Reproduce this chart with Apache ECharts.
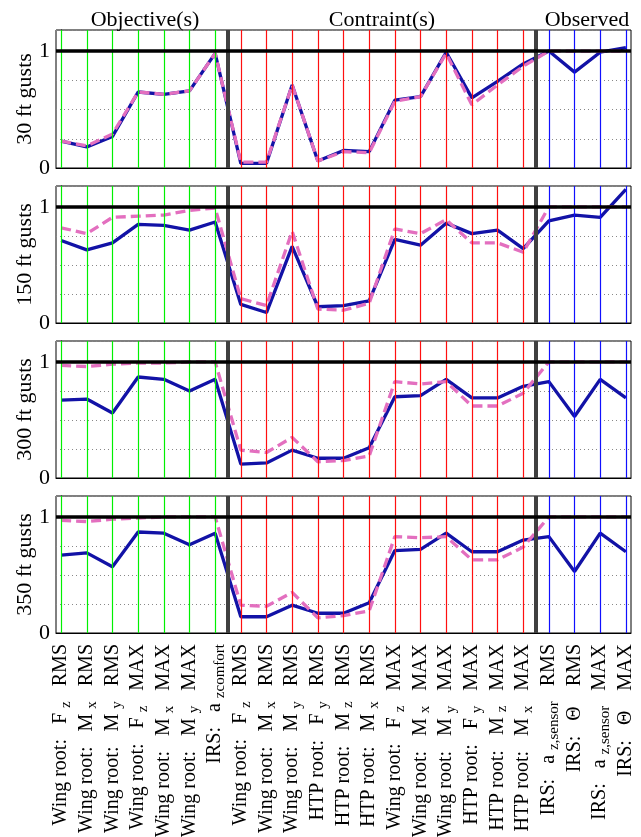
<!DOCTYPE html>
<html>
<head>
<meta charset="utf-8">
<script src="https://cdn.jsdelivr.net/npm/echarts@6/dist/echarts.min.js"></script>
<style>
  html, body { margin: 0; padding: 0; background: #fff; }
  #chart { width: 641px; height: 837px; }
</style>
</head>
<body>
<div id="chart"></div>
<script>
// ---- text ----
const FONT = '"Liberation Serif", "DejaVu Serif", serif';
const sectionTitles = ['Objective(s)', 'Contraint(s)', 'Observed'];
const panelNames = ['30 ft gusts', '150 ft gusts', '300 ft gusts', '350 ft gusts'];

// category labels: main text, subscript, extra (lowered) word, statistic
const labelMain = [
  'Wing root:   F', 'Wing root:   M', 'Wing root:   M', 'Wing root:   F', 'Wing root:   M', 'Wing root:   M',
  'IRS:   a',
  'Wing root:   F', 'Wing root:   M', 'Wing root:   M', 'HTP root:   F', 'HTP root:   M', 'HTP root:   M',
  'Wing root:   F', 'Wing root:   M', 'Wing root:   M', 'HTP root:   F', 'HTP root:   M', 'HTP root:   M',
  'IRS:   a', 'IRS:   \u0398', 'IRS:   a', 'IRS:   \u0398'
];
const labelSub = [
  'z', 'x', 'y', 'z', 'x', 'y',
  'z',
  'z', 'x', 'y', 'y', 'z', 'x',
  'z', 'x', 'y', 'y', 'z', 'x',
  'z,sensor', '', 'z,sensor', ''
];
const labelExtra = ['', '', '', '', '', '', 'comfort', '', '', '', '', '', '', '', '', '', '', '', '', '', '', '', ''];
const labelStat = [
  'RMS', 'RMS', 'RMS', 'MAX', 'MAX', 'MAX',
  '',
  'RMS', 'RMS', 'RMS', 'RMS', 'RMS', 'RMS',
  'MAX', 'MAX', 'MAX', 'MAX', 'MAX', 'MAX',
  'RMS', 'RMS', 'MAX', 'MAX'
];
const yTickLabels = [0, 1];

// section sizes: objectives, constraints, observed quantities
const nObjective = 7;
const nConstraint = 12;
const nObserved = 4;

// ---- values (solid = optimised, dashed = reference) ----
const solid30  = [0.23, 0.18, 0.27, 0.65, 0.63, 0.66, 0.98, 0.04, 0.04, 0.71, 0.06, 0.15, 0.14, 0.58, 0.61, 0.99, 0.60, 0.74, 0.89, 1.00, 0.82, 0.99, 1.03];
const dashed30 = [0.23, 0.19, 0.29, 0.65, 0.63, 0.66, 0.98, 0.05, 0.05, 0.71, 0.06, 0.14, 0.13, 0.57, 0.61, 0.98, 0.54, 0.71, 0.87, 1.00, 1.00, 1.00, 1.00];

const solid150  = [0.71, 0.63, 0.69, 0.85, 0.84, 0.80, 0.87, 0.16, 0.09, 0.66, 0.14, 0.15, 0.19, 0.72, 0.67, 0.86, 0.77, 0.80, 0.64, 0.88, 0.93, 0.91, 1.15];
const dashed150 = [0.82, 0.77, 0.91, 0.92, 0.93, 0.97, 0.99, 0.21, 0.15, 0.79, 0.12, 0.11, 0.17, 0.81, 0.77, 0.89, 0.69, 0.69, 0.61, 1.00, 1.00, 1.00, 1.00];

const solid300  = [0.67, 0.68, 0.56, 0.87, 0.85, 0.75, 0.85, 0.12, 0.13, 0.24, 0.17, 0.17, 0.26, 0.70, 0.71, 0.85, 0.69, 0.69, 0.79, 0.83, 0.53, 0.85, 0.69];
const dashed300 = [0.97, 0.96, 0.98, 0.99, 0.99, 1.00, 1.00, 0.24, 0.22, 0.35, 0.14, 0.15, 0.19, 0.83, 0.81, 0.83, 0.62, 0.62, 0.73, 1.00, 1.00, 1.00, 1.00];

const solid350  = [0.67, 0.69, 0.57, 0.87, 0.86, 0.76, 0.86, 0.14, 0.14, 0.24, 0.17, 0.17, 0.26, 0.71, 0.72, 0.86, 0.70, 0.70, 0.80, 0.83, 0.53, 0.86, 0.70];
const dashed350 = [0.97, 0.96, 0.98, 0.99, 1.00, 1.00, 1.00, 0.24, 0.23, 0.35, 0.13, 0.15, 0.19, 0.83, 0.82, 0.83, 0.63, 0.63, 0.74, 1.00, 1.00, 1.00, 1.00];

const solidSets = [solid30, solid150, solid300, solid350];
const dashedSets = [dashed30, dashed150, dashed300, dashed350];

// ---- layout ----
const panelTops = [30, 186, 341, 496];
const panelHeights = [138, 137, 137, 137];
const plotLeft = 56;
const plotWidth = 575;
const nCat = nObjective + nConstraint + nObserved;

const range = (a, b) => Array.from({ length: b - a }, (_, k) => a + k);
// coloured category lines, one group per section, plus the section separators
const lineGroups = [
  { xs: range(0, nObjective), color: '#00f000', width: 1.2 },
  { xs: range(nObjective, nObjective + nConstraint), color: '#ff1010', width: 1.2 },
  { xs: range(nObjective + nConstraint, nCat), color: '#1010ff', width: 1.2 },
  { xs: [nObjective - 0.5, nObjective + nConstraint - 0.5], color: '#404040', width: 4 }
];

const toPairs = arr => arr.map((v, i) => [i, v]);

function categoryLabel(value) {
  const i = Math.round(value);
  let s = '{m|' + labelMain[i] + ' }';
  if (labelSub[i]) s += '{s|' + labelSub[i] + '}';
  if (labelExtra[i]) s += '{c|' + labelExtra[i] + '}';
  if (labelStat[i]) s += '{m|   ' + labelStat[i] + '}';
  return s;
}

const grids = [], xAxes = [], yAxes = [], series = [];
for (let p = 0; p < 4; p++) {
  const last = p === 3;
  grids.push({
    left: plotLeft, width: plotWidth, top: panelTops[p], height: panelHeights[p],
    show: true, borderColor: '#000', borderWidth: 1, backgroundColor: '#fff',
    containLabel: false, outerBoundsMode: 'none'
  });
  xAxes.push({
    type: 'value', gridIndex: p, min: -0.2, max: nCat - 0.8,
    axisLine: { show: true, lineStyle: { color: '#000', width: 1 } },
    axisTick: { show: false },
    splitLine: { show: false },
    axisLabel: last ? {
      show: true,
      customValues: labelMain.map((_, i) => i),
      showMinLabel: true,
      showMaxLabel: true,
      hideOverlap: false,
      rotate: 90,
      margin: 11,
      formatter: categoryLabel,
      color: '#000',
      rich: {
        m: { fontFamily: FONT, fontSize: 20, color: '#000', lineHeight: 25, verticalAlign: 'middle' },
        s: { fontFamily: FONT, fontSize: 15, color: '#000', lineHeight: 1, verticalAlign: 'bottom' },
        c: { fontFamily: FONT, fontSize: 15, color: '#000', lineHeight: 9, verticalAlign: 'bottom' }
      }
    } : { show: false }
  });
  yAxes.push({
    type: 'value', gridIndex: p, min: 0, max: 1.18, interval: 0.25,
    name: panelNames[p], nameLocation: 'middle', nameRotate: 90, nameGap: 20,
    nameMoveOverlap: false,
    nameTextStyle: { fontFamily: FONT, fontSize: 22, color: '#000' },
    axisLine: { show: true, lineStyle: { color: '#000', width: 1 } },
    axisTick: { show: false },
    axisLabel: {
      show: true, customValues: yTickLabels, margin: 6,
      formatter: v => String(v),
      fontFamily: FONT, fontSize: 22, color: '#000'
    },
    splitLine: { show: true, lineStyle: { color: '#888', width: 1, type: [1, 3] } }
  });

  lineGroups.forEach(g => {
    series.push({
      type: 'line', xAxisIndex: p, yAxisIndex: p, z: 1,
      data: toPairs(solidSets[p]), symbol: 'none', silent: true,
      lineStyle: { opacity: 0 },
      markLine: {
        silent: true, symbol: ['none', 'none'], label: { show: false }, animation: false,
        lineStyle: { color: g.color, width: g.width, type: 'solid', opacity: 1 },
        emphasis: { disabled: true },
        data: g.xs.map(x => ({ xAxis: x }))
      }
    });
  });
  series.push({
    type: 'line', xAxisIndex: p, yAxisIndex: p, z: 2,
    data: toPairs(solidSets[p]), symbol: 'none', silent: true,
    lineStyle: { color: '#1212a6', width: 3.3 }
  });
  series.push({
    type: 'line', xAxisIndex: p, yAxisIndex: p, z: 3,
    data: toPairs(dashedSets[p]), symbol: 'none', silent: true,
    lineStyle: { color: '#e36fbf', width: 3.3, type: [10, 5] }
  });
  // unit reference line
  series.push({
    type: 'line', xAxisIndex: p, yAxisIndex: p, z: 4,
    data: toPairs(solidSets[p]), symbol: 'none', silent: true,
    lineStyle: { opacity: 0 },
    markLine: {
      silent: true, symbol: ['none', 'none'], label: { show: false }, animation: false,
      lineStyle: { color: '#000', width: 3.5, type: 'solid', opacity: 1 },
      data: [{ yAxis: 1 }]
    }
  });
}

const titleCenters = [145, 382, 587];
const chart = echarts.init(document.getElementById('chart'), null, { renderer: 'canvas' });
chart.setOption({
  animation: false,
  backgroundColor: '#fff',
  grid: grids,
  xAxis: xAxes,
  yAxis: yAxes,
  series: series,
  graphic: sectionTitles.map((t, k) => ({
    type: 'text', x: titleCenters[k], y: 20,
    style: { text: t, font: '22px ' + FONT, fill: '#000', textAlign: 'center', textVerticalAlign: 'middle' }
  }))
});
</script>
</body>
</html>
